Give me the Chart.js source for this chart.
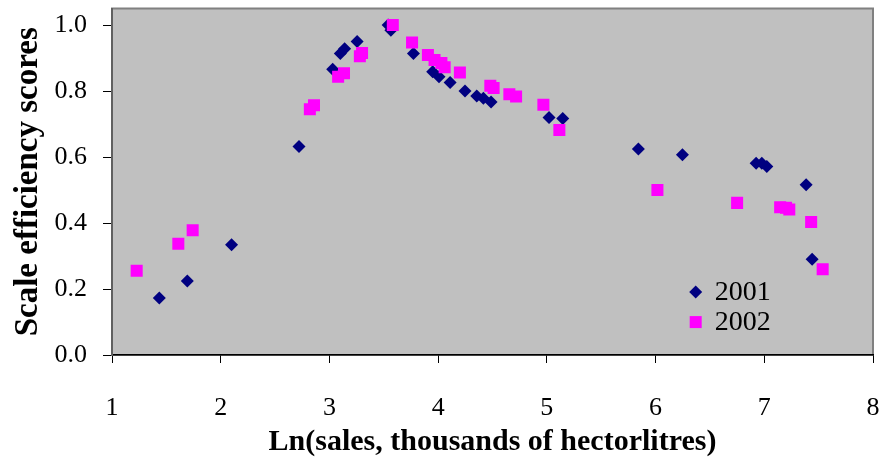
<!DOCTYPE html>
<html>
<head>
<meta charset="utf-8">
<script src="https://cdn.jsdelivr.net/npm/chart.js@4/dist/chart.umd.min.js"></script>
<style>
  html, body { margin: 0; padding: 0; background: #ffffff; }
  #wrap { width: 882px; height: 464px; }
</style>
</head>
<body>
<div id="wrap"><canvas id="c" width="882" height="464"></canvas></div>
<script>
// ---- Data ----
const seriesNames = ['2001', '2002'];

const x2001 = [1.435, 1.693, 2.10, 2.72, 3.03, 3.10, 3.14, 3.255, 3.54, 3.565, 3.773, 3.95, 4.008, 4.11, 4.247, 4.355, 4.416, 4.487, 5.02, 5.146, 5.842, 6.247, 6.925, 6.977, 7.023, 7.385, 7.44];
const y2001 = [0.173, 0.224, 0.334, 0.632, 0.866, 0.914, 0.928, 0.950, 1.000, 0.984, 0.914, 0.858, 0.843, 0.826, 0.800, 0.785, 0.778, 0.767, 0.720, 0.717, 0.624, 0.607, 0.581, 0.581, 0.571, 0.516, 0.290];

const x2002 = [1.227, 1.61, 1.742, 2.82, 2.858, 3.08, 3.134, 3.28, 3.30, 3.583, 3.76, 3.906, 3.967, 4.03, 4.06, 4.20, 4.48, 4.51, 4.655, 4.717, 4.968, 5.115, 6.017, 6.75, 7.146, 7.20, 7.23, 7.431, 7.537];
const y2002 = [0.255, 0.337, 0.378, 0.745, 0.757, 0.843, 0.854, 0.905, 0.915, 1.000, 0.947, 0.909, 0.894, 0.885, 0.872, 0.856, 0.816, 0.809, 0.790, 0.783, 0.758, 0.682, 0.500, 0.461, 0.448, 0.446, 0.441, 0.403, 0.260];

const xTicks = [1, 2, 3, 4, 5, 6, 7, 8];
const yTicks = [0.0, 0.2, 0.4, 0.6, 0.8, 1.0];

const xTitle = 'Ln(sales, thousands of hectorlitres)';
const yTitle = 'Scale efficiency scores';

// ---- Build ----
function pts(xs, ys) { return xs.map((x, i) => ({ x: x, y: ys[i] })); }

const NAVY = '#000080';
const MAGENTA = '#FF00FF';
const SERIF = '"Liberation Serif", "Times New Roman", serif';

const plotBg = {
  id: 'plotBg',
  beforeDraw(chart) {
    const a = chart.chartArea, ctx = chart.ctx;
    ctx.save();
    ctx.fillStyle = '#C0C0C0';
    ctx.fillRect(a.left, a.top, a.right - a.left, a.bottom - a.top);
    ctx.strokeStyle = '#808080';
    ctx.lineWidth = 2;
    ctx.strokeRect(a.left, a.top, a.right - a.left, a.bottom - a.top);
    ctx.restore();
  }
};

const innerLegend = {
  id: 'innerLegend',
  afterDraw(chart) {
    const a = chart.chartArea, ctx = chart.ctx;
    const w = a.right - a.left, h = a.bottom - a.top;
    const mx = a.left + w * 0.767;
    const tx = mx + 19;
    const rows = [
      { y: a.top + h * 0.818, name: seriesNames[0], color: NAVY, shape: 'diamond' },
      { y: a.top + h * 0.905, name: seriesNames[1], color: MAGENTA, shape: 'square' }
    ];
    ctx.save();
    rows.forEach(r => {
      ctx.fillStyle = r.color;
      ctx.beginPath();
      if (r.shape === 'diamond') {
        const s = 6.5;
        ctx.moveTo(mx, r.y - s); ctx.lineTo(mx + s, r.y); ctx.lineTo(mx, r.y + s); ctx.lineTo(mx - s, r.y);
        ctx.closePath();
      } else {
        ctx.rect(mx - 6, r.y - 6, 12, 12);
      }
      ctx.fill();
      ctx.fillStyle = '#000000';
      ctx.font = '28px ' + SERIF;
      ctx.textBaseline = 'middle';
      ctx.textAlign = 'left';
      ctx.fillText(r.name, tx, r.y + 1);
    });
    ctx.restore();
  }
};

new Chart(document.getElementById('c'), {
  type: 'scatter',
  data: {
    datasets: [
      {
        label: seriesNames[0],
        data: pts(x2001, y2001),
        pointStyle: 'rectRot',
        pointRadius: 6.5,
        pointHoverRadius: 6.5,
        backgroundColor: NAVY,
        borderColor: NAVY,
        borderWidth: 0,
        order: 2
      },
      {
        label: seriesNames[1],
        data: pts(x2002, y2002),
        pointStyle: 'rect',
        pointRadius: 8.5,
        pointHoverRadius: 8.5,
        backgroundColor: MAGENTA,
        borderColor: MAGENTA,
        borderWidth: 0,
        order: 1
      }
    ]
  },
  options: {
    responsive: false,
    animation: false,
    events: [],
    layout: { padding: { top: 7, right: 9, left: 0, bottom: 0 } },
    plugins: {
      legend: { display: false },
      tooltip: { enabled: false }
    },
    scales: {
      x: {
        type: 'linear',
        min: xTicks[0],
        max: xTicks[xTicks.length - 1],
        afterBuildTicks(scale) { scale.ticks = xTicks.map(v => ({ value: v })); },
        afterFit(scale) {
          scale.height = 109;
          scale.paddingLeft = 0; scale.paddingRight = 0;
        },
        ticks: {
          color: '#000000',
          font: { family: SERIF, size: 26 },
          padding: 30,
          maxRotation: 0,
          callback: v => String(v)
        },
        grid: {
          drawOnChartArea: false,
          drawTicks: true,
          tickLength: 8,
          color: '#000000',
          lineWidth: 1
        },
        border: { display: true, color: '#000000', width: 1.5 },
        title: {
          display: true,
          text: xTitle,
          color: '#000000',
          font: { family: SERIF, size: 30, weight: 'bold' },
          padding: { top: 0, bottom: 4 }
        }
      },
      y: {
        type: 'linear',
        min: 0,
        max: 1.05,
        afterBuildTicks(scale) { scale.ticks = yTicks.map(v => ({ value: v })); },
        afterFit(scale) {
          scale.width = 112;
          scale.paddingTop = 0; scale.paddingBottom = 0;
        },
        ticks: {
          color: '#000000',
          font: { family: SERIF, size: 26 },
          padding: 16,
          callback: v => Number(v).toFixed(1)
        },
        grid: {
          drawOnChartArea: false,
          drawTicks: true,
          tickLength: 9,
          color: '#000000',
          lineWidth: 1
        },
        border: { display: true, color: '#606060', width: 2 },
        title: {
          display: true,
          text: yTitle,
          color: '#000000',
          font: { family: SERIF, size: 33, weight: 'bold' },
          padding: { top: 9, bottom: 0 }
        }
      }
    }
  },
  plugins: [plotBg, innerLegend]
});
</script>
</body>
</html>
